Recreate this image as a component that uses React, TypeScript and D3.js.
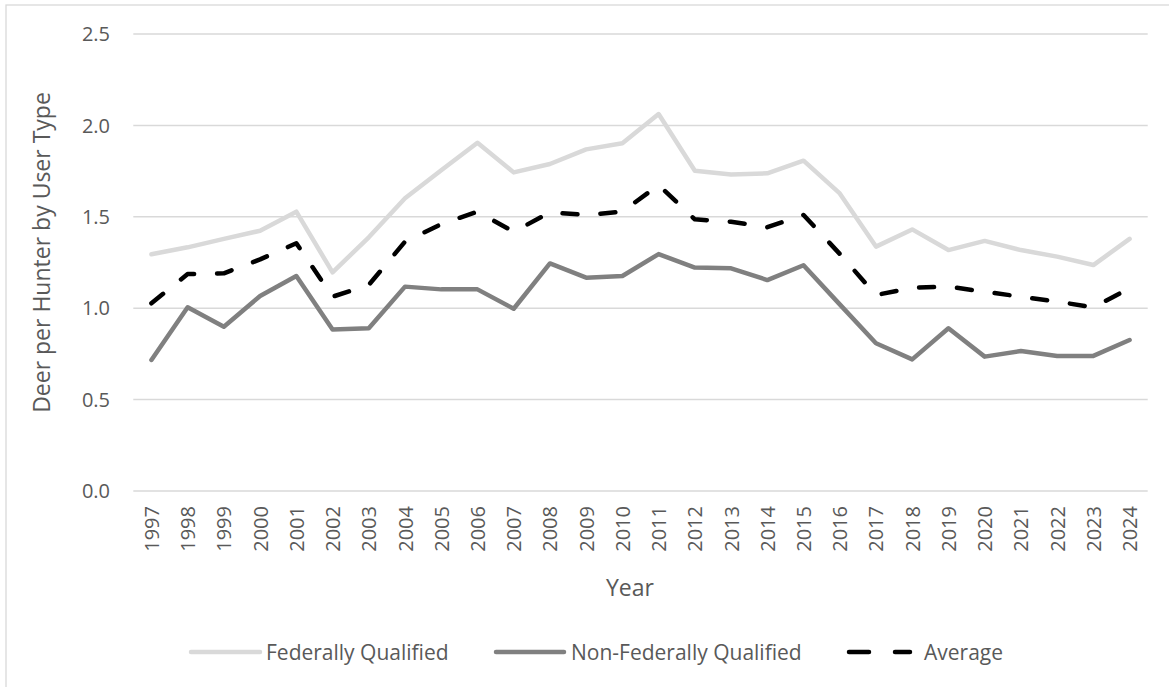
import React from "react";
import * as d3 from "d3";

const years = [
  "1997","1998","1999","2000","2001","2002","2003","2004","2005","2006","2007","2008","2009","2010",
  "2011","2012","2013","2014","2015","2016","2017","2018","2019","2020","2021","2022","2023","2024",
];
const federallyQualified = [
  1.295, 1.333, 1.379, 1.424, 1.528, 1.196, 1.388, 1.601, 1.755, 1.905, 1.743, 1.789, 1.869, 1.902,
  2.062, 1.752, 1.732, 1.738, 1.807, 1.628, 1.337, 1.431, 1.318, 1.368, 1.318, 1.282, 1.236, 1.379,
];
const nonFederallyQualified = [
  0.717, 1.005, 0.899, 1.067, 1.176, 0.884, 0.89, 1.118, 1.103, 1.103, 0.997, 1.245, 1.167, 1.176,
  1.296, 1.222, 1.218, 1.154, 1.235, 1.021, 0.808, 0.72, 0.89, 0.735, 0.766, 0.739, 0.739, 0.826,
];
const average = [
  1.027, 1.187, 1.191, 1.267, 1.355, 1.063, 1.127, 1.364, 1.46, 1.528, 1.418, 1.524, 1.51, 1.528,
  1.674, 1.486, 1.473, 1.443, 1.51, 1.297, 1.072, 1.112, 1.118, 1.09, 1.063, 1.036, 1.005, 1.109,
];
const yTicks = [0, 0.5, 1.0, 1.5, 2.0, 2.5];
const seriesNames = ["Federally Qualified", "Non-Federally Qualified", "Average"];

const FONT = "'Open Sans', 'DejaVu Sans', sans-serif";
const TEXT = "#595959";

export default function App() {
  const W = 1169;
  const H = 687;
  const left = 133.3;
  const right = 1147.7;
  const top = 34;
  const bottom = 491;

  const x = d3.scaleBand<string>().domain(years).range([left, right]).padding(0);
  const cx = (y: string) => (x(y) as number) + x.bandwidth() / 2;
  const y = d3.scaleLinear().domain([0, 2.5]).range([bottom, top]);

  const line = (vals: number[]) =>
    d3
      .line<number>()
      .x((_, i) => cx(years[i]))
      .y((v) => y(v))(vals) as string;

  const series = [
    { name: seriesNames[0], vals: federallyQualified, color: "#d9d9d9", dash: undefined as string | undefined },
    { name: seriesNames[1], vals: nonFederallyQualified, color: "#808080", dash: undefined },
    { name: seriesNames[2], vals: average, color: "#000000", dash: "15 23" },
  ];

  const legend = [
    { x1: 189, x2: 262, tx: 266 },
    { x1: 494, x2: 566, tx: 571 },
    { x1: 847, x2: 912, tx: 924 },
  ];
  const legendY = 652;

  return (
    <svg
      width={W}
      height={H}
      style={{ position: "absolute", left: 0, top: 0, background: "#fff" }}
      fontFamily={FONT}
    >
      <rect x={0} y={0} width={W} height={H} fill="#fff" />
      <rect x={6} y={5} width={W + 20} height={H + 20} fill="none" stroke="#d9d9d9" strokeWidth={1.3} />

      {yTicks.map((t) => (
        <g key={t}>
          <line x1={left} x2={right} y1={y(t)} y2={y(t)} stroke="#d9d9d9" strokeWidth={1.5} />
          <text x={110} y={y(t)} dy="0.36em" textAnchor="end" fontSize={20} fill={TEXT}>
            {t.toFixed(1)}
          </text>
        </g>
      ))}

      {years.map((yr) => (
        <text
          key={yr}
          transform={`translate(${cx(yr) + 7.5},${506}) rotate(-90)`}
          textAnchor="end"
          fontSize={20}
          fill={TEXT}
        >
          {yr}
        </text>
      ))}

      <text x={630} y={596} textAnchor="middle" fontSize={23} fill={TEXT}>
        Year
      </text>
      <text
        transform={`translate(50,252.5) rotate(-90)`}
        textAnchor="middle"
        fontSize={23}
        fill={TEXT}
      >
        Deer per Hunter by User Type
      </text>

      {series.map((s) => (
        <path
          key={s.name}
          d={line(s.vals)}
          fill="none"
          stroke={s.color}
          strokeWidth={4.5}
          strokeDasharray={s.dash}
          strokeLinecap="round"
          strokeLinejoin="round"
        />
      ))}

      {series.map((s, i) => (
        <g key={s.name}>
          <line
            x1={legend[i].x1 + 2}
            x2={legend[i].x2 - 2}
            y1={legendY}
            y2={legendY}
            stroke={s.color}
            strokeWidth={4.5}
            strokeLinecap="round"
            strokeDasharray={s.dash ? "20 26" : undefined}
          />
          <text x={legend[i].tx} y={legendY} dy="0.36em" fontSize={21} fill={TEXT}>
            {s.name}
          </text>
        </g>
      ))}
    </svg>
  );
}
